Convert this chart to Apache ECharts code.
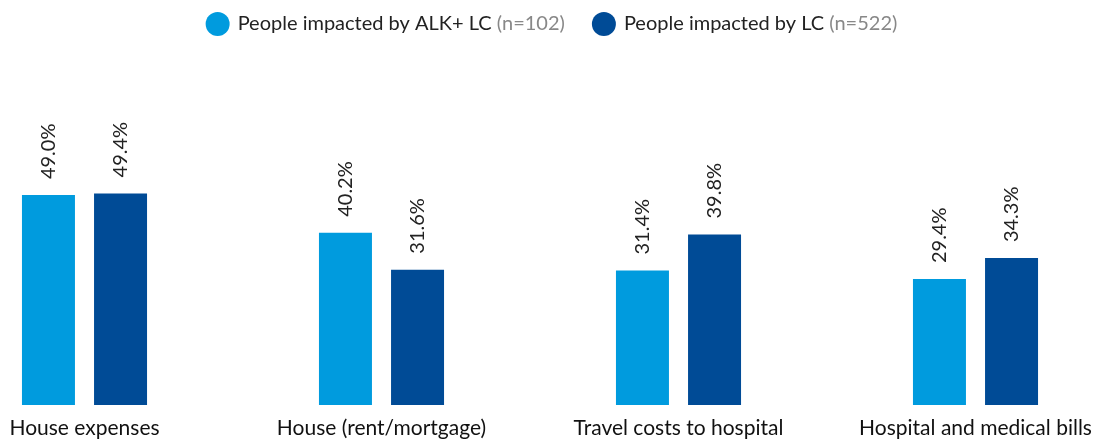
<!DOCTYPE html>
<html>
<head>
<meta charset="utf-8">
<script src="https://cdn.jsdelivr.net/npm/echarts@6/dist/echarts.min.js"></script>
<style>
  html, body { margin: 0; padding: 0; background: #fff; }
  #chart { width: 1103px; height: 441px; }
</style>
</head>
<body>
<div id="chart"></div>
<script>
  var categories = ['House expenses', 'House (rent/mortgage)', 'Travel costs to hospital', 'Hospital and medical bills'];
  var seriesNames = ['People impacted by ALK+ LC', 'People impacted by LC'];
  var seriesCounts = ['(n=102)', '(n=522)'];
  var alkValues = [49.0, 40.2, 31.4, 29.4];
  var lcValues = [49.4, 31.6, 39.8, 34.3];

  var colors = ['#009bde', '#004b96'];

  var chart = echarts.init(document.getElementById('chart'));

  function makeSeries(name, data, color) {
    return {
      name: name,
      type: 'bar',
      data: data,
      barWidth: 53,
      barGap: '36%',
      itemStyle: { color: color },
      label: {
        show: true,
        position: 'top',
        rotate: 90,
        align: 'left',
        verticalAlign: 'middle',
        distance: 16,
        fontFamily: 'Lato',
        fontSize: 20,
        color: '#222',
        formatter: function (p) { return p.value.toFixed(1) + '%'; }
      }
    };
  }

  chart.setOption({
    animation: false,
    color: colors,
    legend: {
      top: 7,
      left: 'center',
      icon: 'circle',
      itemWidth: 24,
      itemHeight: 24,
      itemGap: 27,
      textStyle: {
        fontFamily: 'Lato',
        fontSize: 20,
        color: '#222',
        padding: [0, 0, 0, 3],
        rich: {
          n: { fontFamily: 'Lato', fontSize: 20, color: '#888' }
        }
      },
      formatter: function (name) {
        var i = seriesNames.indexOf(name);
        return name + ' {n|' + seriesCounts[i] + '}';
      },
      data: seriesNames
    },
    grid: { left: 84.5, right: 127.5, top: 148, bottom: 36 },
    xAxis: {
      type: 'category',
      data: categories,
      boundaryGap: false,
      axisLine: { show: false },
      axisTick: { show: false },
      axisLabel: {
        margin: 13,
        fontFamily: 'Lato',
        fontSize: 21,
        color: '#111',
        interval: 0
      }
    },
    yAxis: {
      type: 'value',
      min: 0,
      max: 60,
      show: false
    },
    series: [
      makeSeries(seriesNames[0], alkValues, colors[0]),
      makeSeries(seriesNames[1], lcValues, colors[1])
    ]
  });
</script>
</body>
</html>
